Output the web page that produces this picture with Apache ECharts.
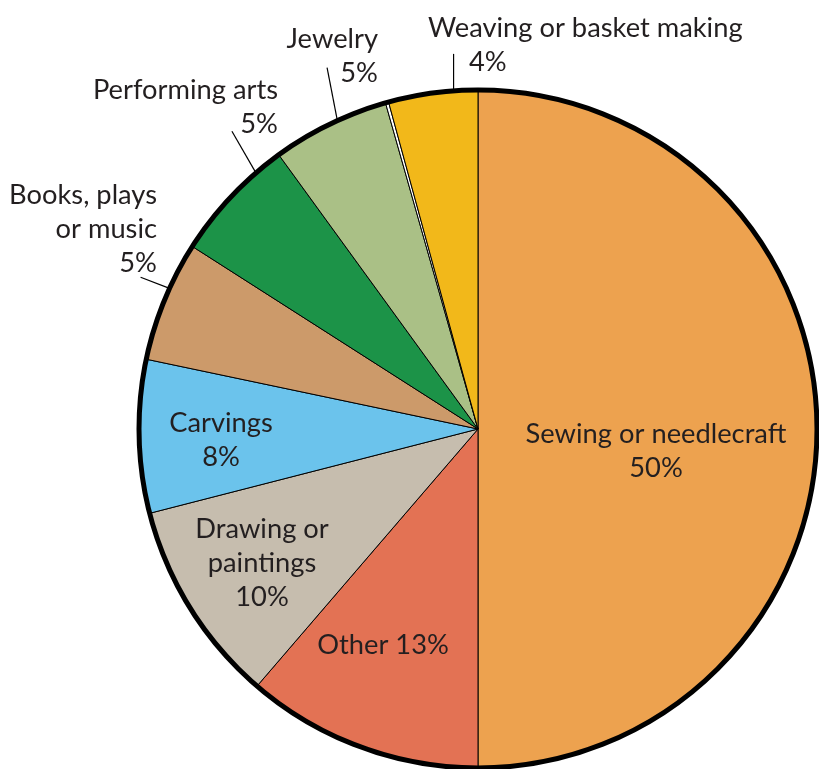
<!DOCTYPE html>
<html><head><meta charset="utf-8">
<script src="https://cdn.jsdelivr.net/npm/echarts@6/dist/echarts.min.js"></script>
<style>html,body{margin:0;padding:0;background:#fff}#c{width:819px;height:769px}</style>
</head><body><div id="c"></div>
<script>
// ---- data (clockwise from 12 o'clock) ----
const categories = ['Sewing or needlecraft', 'Other', 'Drawing or\npaintings', 'Carvings', 'Books, plays\nor music', 'Performing arts', 'Jewelry', '', 'Weaving or basket making'];
const values = [50.0, 11.3, 9.7, 7.3, 5.75, 5.95, 5.6, 0.15, 4.25];
const percentLabels = ['50%', '13%', '10%', '8%', '5%', '5%', '5%', '', '4%'];
const colors = ['#EDA24F', '#E37254', '#C6BDAE', '#6BC3EC', '#CC9A6A', '#1C9348', '#AAC086', '#FFFFFF', '#F2B81A'];

// ---- layout / style ----
const CENTER = [478, 429];
const R = 339;
const FONT = 'Lato';
const FS = 27.3;
const LH = 34;
const TEXT = '#231F20';
const inside = [true, true, true, true, false, false, false, null, false];
const labelPlace = {
  0: {x: 656, y: 451, align: 'center'},
  1: {x: 383, y: 645, align: 'center'},
  2: {x: 262, y: 563, align: 'center'},
  3: {x: 221, y: 440, align: 'center'},
  4: {x: 157, y: 229, align: 'right'},
  5: {x: 278, y: 107, align: 'right'},
  6: {x: 378, y: 56, align: 'right'},
  8: {x: 428, y: 45, align: 'left'}
};
// leader: t = position within slice (0..1), dir = direction (deg clockwise from up), len = px
const leaders = {
  4: {t: 0.61, dir: -69, len: 31},
  5: {t: 0.77, dir: -30, len: 48},
  6: {t: 0.57, dir: -11, len: 54},
  8: {t: 0.73, dir: 0, len: 37}
};

const total = values.reduce((a, b) => a + b, 0);
function anglePoint(deg, r) {
  const a = deg * Math.PI / 180;
  return [CENTER[0] + r * Math.sin(a), CENTER[1] - r * Math.cos(a)];
}
function leaderPoints(i) {
  const L = leaders[i];
  let start = 0;
  for (let k = 0; k < i; k++) start += values[k];
  const deg = (start + L.t * values[i]) / total * 360;
  const p0 = anglePoint(deg, R);
  const d = L.dir * Math.PI / 180;
  const p1 = [p0[0] + L.len * Math.sin(d), p0[1] - L.len * Math.cos(d)];
  return [p0, p1];
}

const data = categories.map((name, i) => {
  const isGap = inside[i] === null;
  let text;
  if (isGap) text = '';
  else if (i === 1) text = name + ' ' + percentLabels[i];
  else if (i === 8) text = '{a|' + name + '}\n{b|' + percentLabels[i] + '}';
  else text = name + '\n' + percentLabels[i];
  return {
    name: name || 'gap',
    value: values[i],
    itemStyle: {color: colors[i]},
    label: {
      show: !isGap,
      position: inside[i] ? 'inside' : 'outside',
      formatter: text
    },
    labelLine: {show: inside[i] === false}
  };
});

const chart = echarts.init(document.getElementById('c'), null, {renderer: 'canvas'});
chart.setOption({
  animation: false,
  backgroundColor: '#ffffff',
  series: [
    {
      type: 'pie',
      center: CENTER,
      radius: R,
      startAngle: 90,
      clockwise: true,
      avoidLabelOverlap: false,
      silent: true,
      itemStyle: {borderColor: '#000', borderWidth: 1},
      label: {
        fontFamily: FONT, fontSize: FS, lineHeight: LH, color: TEXT,
        rich: {
          a: {fontFamily: FONT, fontSize: FS, lineHeight: LH, color: TEXT},
          b: {fontFamily: FONT, fontSize: FS, lineHeight: LH, color: TEXT, padding: [0, 0, 0, 41]}
        }
      },
      labelLine: {lineStyle: {color: '#000', width: 1.2}, length: 20, length2: 0},
      labelLayout: function (p) {
        const pl = labelPlace[p.dataIndex];
        if (!pl) return {};
        const out = {x: pl.x, y: pl.y, align: pl.align, verticalAlign: 'middle'};
        if (leaders[p.dataIndex]) out.labelLinePoints = leaderPoints(p.dataIndex);
        return out;
      },
      data: data
    },
    {
      type: 'pie',
      center: CENTER,
      radius: R,
      silent: true,
      z: 5,
      label: {show: false},
      labelLine: {show: false},
      itemStyle: {color: 'rgba(0,0,0,0)', borderColor: '#000', borderWidth: 5},
      data: [{value: 1, name: 'outline'}]
    }
  ]
});
</script>
</body></html>
